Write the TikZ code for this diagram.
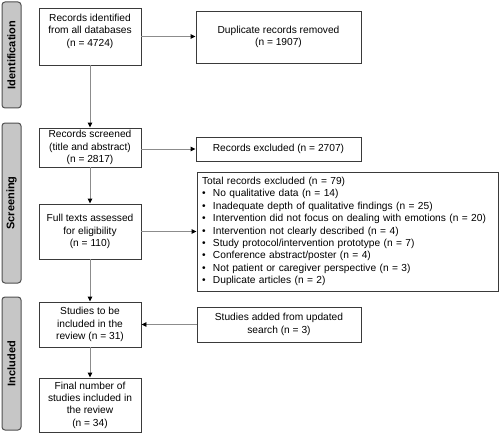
\documentclass[tikz,border=0pt]{standalone}
\usepackage{fontspec}
\setmainfont{Liberation Sans}
\usetikzlibrary{arrows.meta}
\definecolor{boxline}{HTML}{3A3A3A}
\definecolor{arrline}{HTML}{8C8C8C}
\definecolor{barfill}{HTML}{C6C6C6}
\definecolor{barline}{HTML}{505050}
\tikzset{
  box/.style={draw=boxline, line width=0.9pt, fill=white, inner sep=0pt, align=center,
    font=\fontsize{10.2}{12.4}\selectfont},
  txt/.style={inner sep=0pt, align=center, font=\fontsize{10.2}{12.4}\selectfont},
  sidebar/.style={draw=barline, line width=1pt, fill=barfill, rounded corners=3pt,
    minimum width=19pt, inner sep=0pt},
  sidelabel/.style={rotate=90, font=\bfseries\fontsize{11}{13}\selectfont, inner sep=0pt},
  arr/.style={draw=arrline, line width=0.9pt, -{Triangle[length=5pt,width=4.5pt,color=black]}},
}
\newcommand{\bl}{\makebox[11pt][l]{•}}
\begin{document}
\begin{tikzpicture}[x=1pt,y=-1pt]
\useasboundingbox (0,0) rectangle (500,433);
% side bars
\node[sidebar, minimum height=106pt] (idbar) at (11.5,55) {};
\node[sidelabel] (idlab) at (idbar.center) {Identification};
\node[sidebar, minimum height=160pt] (scbar) at (11.5,203) {};
\node[sidelabel] (sclab) at (scbar.center) {Screening};
\node[sidebar, minimum height=133pt] (inbar) at (11.5,363.5) {};
\node[sidelabel] (inlab) at (inbar.center) {Included};
% boxes
\node[box, minimum width=102pt, minimum height=57pt] (b1) at (90,36.5) {};
\node[txt] (b1t) at (90,31) {Records identified\\from all databases\\(n = 4724)};
\node[box, minimum width=165pt, minimum height=52pt] (dup) at (278.5,37) {Duplicate records removed\\(n = 1907)};
\node[box, minimum width=102pt, minimum height=39pt] (b2) at (90,147.5) {Records screened\\(title and abstract)\\(n = 2817)};
\node[box, minimum width=165pt, minimum height=24pt] (excl) at (278.5,149) {Records excluded (n = 2707)};
\node[box, minimum width=301pt, minimum height=119pt, align=left, text width=291pt, inner xsep=5pt] (tot) at (347.5,231.5) {Total records excluded (n = 79)\\
\bl No qualitative data (n = 14)\\
\bl Inadequate depth of qualitative findings (n = 25)\\
\bl Intervention did not focus on dealing with emotions (n = 20)\\
\bl Intervention not clearly described (n = 4)\\
\bl Study protocol/intervention prototype (n = 7)\\
\bl Conference abstract/poster (n = 4)\\
\bl Not patient or caregiver perspective (n = 3)\\
\bl Duplicate articles (n = 2)};
\node[box, minimum width=102pt, minimum height=55pt] (full) at (90,231.5) {Full texts assessed\\for eligibility\\(n = 110)};
\node[box, minimum width=102pt, minimum height=45pt] (stud) at (90,324.5) {Studies to be\\included in the\\review (n = 31)};
\node[box, minimum width=164pt, minimum height=35pt] (add) at (279,324.5) {Studies added from updated\\search (n = 3)};
\node[box, minimum width=102pt, minimum height=54pt] (fin) at (90,405) {Final number of\\studies included in\\the review\\(n = 34)};
% arrows
\draw[arr] (b1.east) -- (dup.west |- b1.east);
\draw[arr] (b2.east |- excl.west) -- (excl.west);
\draw[arr] (full.east) -- (tot.west |- full.east);
\draw[arr] (add.west) -- (stud.east |- add.west);
\draw[arr] (b1.south) -- (b2.north);
\draw[arr] (b2.south) -- (full.north);
\draw[arr] (full.south) -- (stud.north);
\draw[arr] (stud.south) -- (fin.north);
\end{tikzpicture}
\end{document}
